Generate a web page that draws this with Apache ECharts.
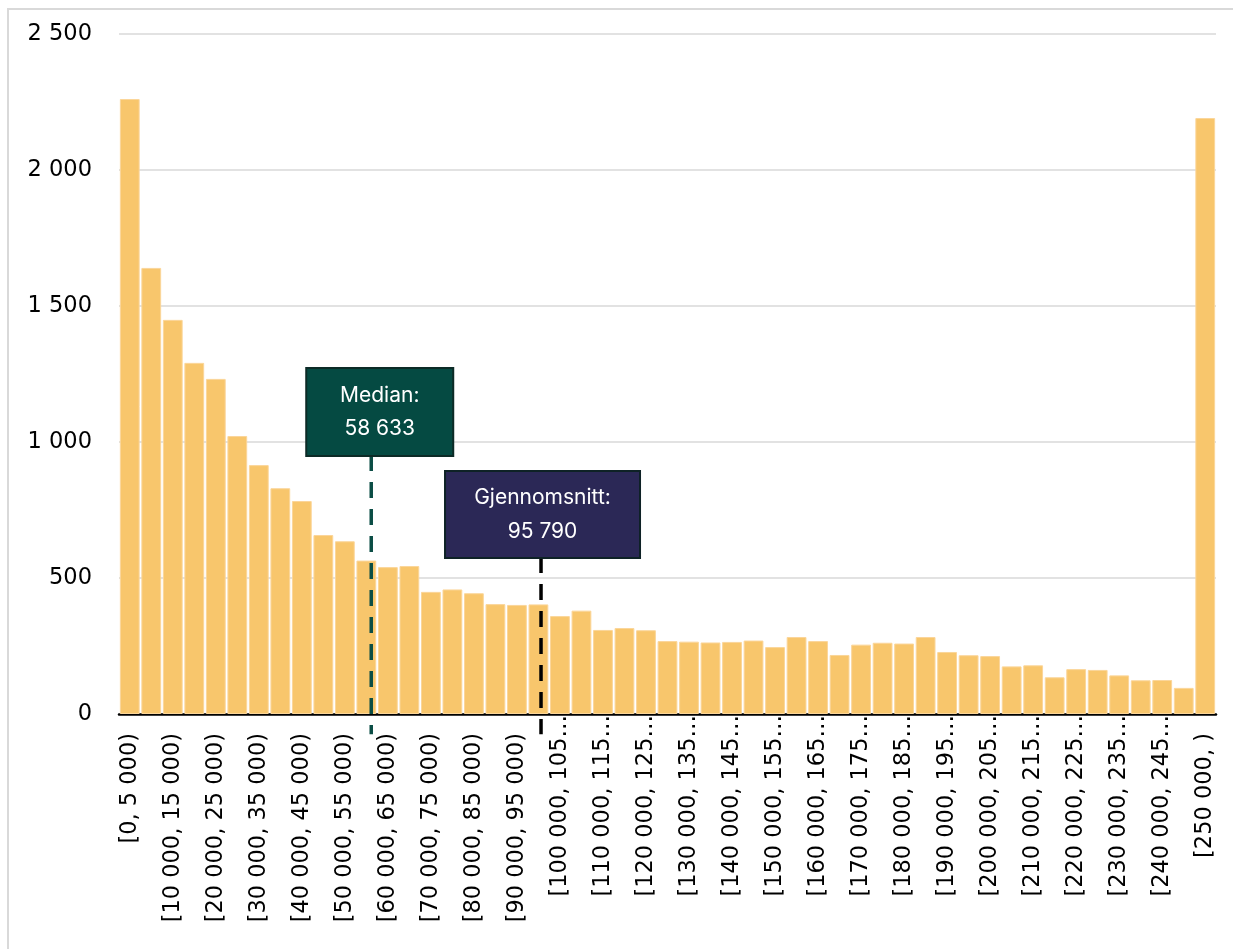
<!DOCTYPE html>
<html>
<head>
<meta charset="utf-8">
<script src="https://cdn.jsdelivr.net/npm/echarts@6/dist/echarts.min.js"></script>
<style>
  html, body { margin: 0; padding: 0; background: #fff; }
  #frame { position: absolute; left: 7px; top: 8px; width: 1300px; height: 1000px;
           border-left: 2px solid #d9d9d9; border-top: 2px solid #d9d9d9; }
  #chart { position: absolute; left: 0; top: 0; width: 1233px; height: 949px; }
</style>
</head>
<body>
<div id="frame"></div>
<div id="chart"></div>
<script>
// ---- data ----
const categories = [
  "[0, 5 000)", "[5 000, 10 000)", "[10 000, 15 000)", "[15 000, 20 000)", "[20 000, 25 000)",
  "[25 000, 30 000)", "[30 000, 35 000)", "[35 000, 40 000)", "[40 000, 45 000)", "[45 000, 50 000)",
  "[50 000, 55 000)", "[55 000, 60 000)", "[60 000, 65 000)", "[65 000, 70 000)", "[70 000, 75 000)",
  "[75 000, 80 000)", "[80 000, 85 000)", "[85 000, 90 000)", "[90 000, 95 000)", "[95 000, 100 000)",
  "[100 000, 105 000)", "[105 000, 110 000)", "[110 000, 115 000)", "[115 000, 120 000)", "[120 000, 125 000)",
  "[125 000, 130 000)", "[130 000, 135 000)", "[135 000, 140 000)", "[140 000, 145 000)", "[145 000, 150 000)",
  "[150 000, 155 000)", "[155 000, 160 000)", "[160 000, 165 000)", "[165 000, 170 000)", "[170 000, 175 000)",
  "[175 000, 180 000)", "[180 000, 185 000)", "[185 000, 190 000)", "[190 000, 195 000)", "[195 000, 200 000)",
  "[200 000, 205 000)", "[205 000, 210 000)", "[210 000, 215 000)", "[215 000, 220 000)", "[220 000, 225 000)",
  "[225 000, 230 000)", "[230 000, 235 000)", "[235 000, 240 000)", "[240 000, 245 000)", "[245 000, 250 000)",
  "[250 000, )"
];
const counts = [
  2261, 1640, 1449, 1291, 1232, 1022, 915, 830, 783, 658,
  635, 564, 540, 544, 449, 458, 444, 404, 401, 403,
  360, 380, 309, 316, 308, 268, 266, 263, 265, 270,
  246, 283, 268, 217, 255, 262, 259, 283, 228, 216,
  213, 175, 179, 135, 165, 162, 142, 124, 125, 96,
  2191
];
const yTicks = [0, 500, 1000, 1500, 2000, 2500];
const markerNames = ["Median:", "Gjennomsnitt:"];
const markerValues = [58633, 95790];
// where the dashed lines sit on the income scale
const markerLinePos = [58633, 98100];
const incomeMax = 255000;

// ---- styles / layout ----
const fmt = v => String(v).replace(/\B(?=(\d{3})+(?!\d))/g, ' ');
const markerStyles = [
  { line: '#0b4d45', fill: '#054a42', border: '#0c2a26', width: 145, padding: [10, 0], lineHeight: 33, top: 952, dx: 8.5 },
  { line: '#000000', fill: '#2b2856', border: '#0e2226', width: 193, padding: [8.5, 0], lineHeight: 34, top: 577, dx: 1.5 }
];
const lineBottom = -74;

const chart = echarts.init(document.getElementById('chart'), null, { renderer: 'canvas' });
chart.setOption({
  animation: false,
  backgroundColor: 'transparent',
  grid: { left: 119, right: 17, top: 34, bottom: 235, containLabel: false },
  xAxis: [
    {
      type: 'category',
      data: categories,
      boundaryGap: true,
      axisLine: { show: true, lineStyle: { color: '#000', width: 2.5 } },
      axisTick: { show: false },
      axisLabel: {
        interval: 1,
        rotate: 90,
        margin: 1,
        color: '#000',
        fontFamily: 'DejaVu Sans',
        fontSize: 22.5,
        formatter: v => v.length > 16 ? '{t|' + v.slice(0, 13) + '…}' : '{n|' + v + '}',
        rich: {
          n: { fontFamily: 'DejaVu Sans', fontSize: 22.5, color: '#000', padding: [0, 18, 0, 0] },
          t: { fontFamily: 'DejaVu Sans', fontSize: 22.5, color: '#000', padding: [0, 0, 0, 0] }
        }
      }
    },
    { type: 'value', show: false, min: 0, max: incomeMax, gridIndex: 0 }
  ],
  yAxis: {
    type: 'value',
    min: yTicks[0],
    max: yTicks[yTicks.length - 1],
    interval: yTicks[1] - yTicks[0],
    axisLine: { show: false },
    axisTick: { show: false },
    splitLine: { show: true, lineStyle: { color: '#d9d9d9', width: 1.5 } },
    axisLabel: { margin: 27, color: '#000', fontFamily: 'DejaVu Sans', fontSize: 22.5, formatter: fmt }
  },
  series: [
    {
      type: 'bar',
      data: counts,
      xAxisIndex: 0,
      barCategoryGap: '8%',
      itemStyle: { color: '#f8c66c', borderColor: '#fbd69a', borderWidth: 1 }
    },
    {
      type: 'custom',
      xAxisIndex: 1,
      z: 10,
      data: markerLinePos.map((x, i) => [x, 0, i]),
      encode: { x: 0, y: 1 },
      renderItem: (params, api) => {
        const i = api.value(2);
        const s = markerStyles[i];
        const x = api.value(0);
        const top = api.coord([x, s.top]);
        const bot = api.coord([x, lineBottom]);
        return {
          type: 'group',
          children: [
            {
              type: 'line',
              shape: { x1: top[0], y1: top[1], x2: top[0], y2: bot[1] },
              style: { stroke: s.line, lineWidth: 3.5, lineDash: [16, 11] }
            },
            {
              type: 'text',
              x: top[0] + s.dx,
              y: top[1],
              style: {
                text: markerNames[i] + '\n' + fmt(markerValues[i]),
                fill: '#ffffff',
                fontFamily: 'Inter',
                fontSize: 21,
                lineHeight: s.lineHeight,
                align: 'center',
                verticalAlign: 'bottom',
                width: s.width,
                backgroundColor: s.fill,
                borderColor: s.border,
                borderWidth: 2,
                padding: s.padding
              }
            }
          ]
        };
      }
    }
  ]
});
</script>
</body>
</html>
